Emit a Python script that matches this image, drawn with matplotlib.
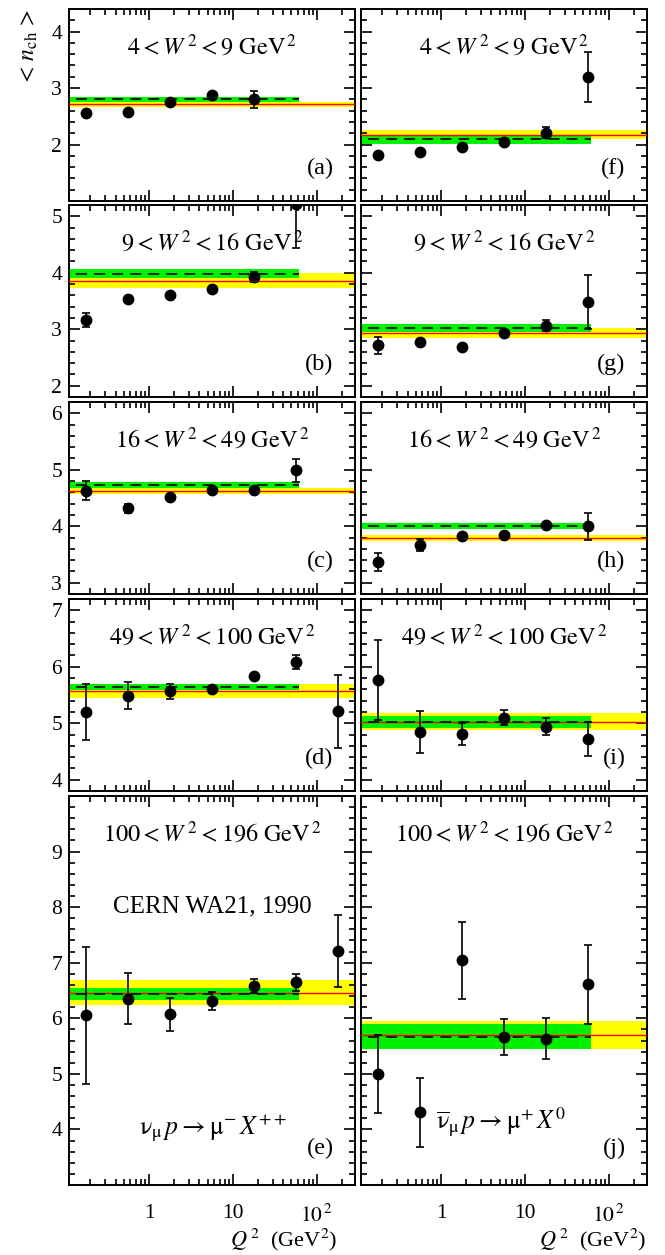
import numpy as np
import matplotlib
matplotlib.use("Agg")
import matplotlib.pyplot as plt
from matplotlib.ticker import MultipleLocator, FixedLocator, FixedFormatter, LogLocator, NullFormatter

plt.rcParams['font.family'] = ['Liberation Serif', 'DejaVu Serif']
plt.rcParams['mathtext.fontset'] = 'stix'

# Q^2 bin centres (GeV^2)
q2 = [0.178, 0.562, 1.78, 5.62, 17.8, 56.2, 178]

# <n_ch> per panel, values and errors
n_a = [2.55, 2.57, 2.75, 2.87, 2.80]
e_a = [0, 0, 0, 0, 0.15]
n_b = [3.16, 3.53, 3.60, 3.71, 3.92, 5.22]
e_b = [0.12, 0, 0, 0, 0.09, 0.78]
n_c = [4.63, 4.315, 4.51, 4.64, 4.65, 4.99]
e_c = [0.17, 0.08, 0, 0, 0, 0.20]
n_d = [5.20, 5.49, 5.565, 5.61, 5.845, 6.08, 5.21]
e_d = [0.49, 0.24, 0.135, 0, 0, 0.12, 0.65]
n_e = [6.055, 6.355, 6.07, 6.31, 6.58, 6.65, 7.21]
e_e = [1.23, 0.46, 0.29, 0.16, 0.13, 0.15, 0.655]

n_f = [1.81, 1.86, 1.96, 2.05, 2.21, 3.20]
e_f = [0, 0, 0, 0, 0.10, 0.44]
n_g = [2.72, 2.775, 2.69, 2.94, 3.06, 3.48]
e_g = [0.15, 0, 0, 0, 0.10, 0.48]
n_h = [3.37, 3.67, 3.82, 3.84, 4.03, 4.00]
e_h = [0.16, 0.11, 0, 0, 0, 0.24]
n_i = [5.76, 4.85, 4.81, 5.10, 4.94, 4.72]
e_i = [0.71, 0.375, 0.20, 0.14, 0.155, 0.30]
n_j = [5.00, 4.31, 7.04, 5.66, 5.63, 6.61]
e_j = [0.70, 0.62, 0.695, 0.32, 0.37, 0.71]

# bands: (centre, half width); green = fit up to Q^2 ~ 60, yellow = full range
green = {'a': (2.80, 0.05), 'b': (3.98, 0.08), 'c': (4.73, 0.05), 'd': (5.645, 0.053),
         'e': (6.44, 0.11), 'f': (2.095, 0.08), 'g': (3.02, 0.07), 'h': (4.005, 0.055),
         'i': (5.025, 0.105), 'j': (5.67, 0.22)}
yellow = {'a': (2.71, 0.045), 'b': (3.86, 0.13), 'c': (4.62, 0.055), 'd': (5.575, 0.125),
          'e': (6.46, 0.225), 'f': (2.175, 0.08), 'g': (2.935, 0.095), 'h': (3.79, 0.05),
          'i': (5.03, 0.15), 'j': (5.705, 0.255)}
green_end = 61

w2_bins = ['4 < W^{\\,2} < 9', '9 < W^{\\,2} < 16', '16 < W^{\\,2} < 49',
           '49 < W^{\\,2} < 100', '100 < W^{\\,2} < 196']
ylims = [(1.0, 4.4), (1.8, 5.2), (2.8, 6.2), (3.8, 7.2), (3.0, 10.0)]
yticks = [[2, 3, 4], [2, 3, 4, 5], [3, 4, 5, 6], [4, 5, 6, 7], [4, 5, 6, 7, 8, 9]]
xlim = (0.111, 287)

left_data = [(n_a, e_a), (n_b, e_b), (n_c, e_c), (n_d, e_d), (n_e, e_e)]
right_data = [(n_f, e_f), (n_g, e_g), (n_h, e_h), (n_i, e_i), (n_j, e_j)]

W, H = 665, 1255
fig = plt.figure(figsize=(W / 100, H / 100), dpi=100)

tops = [9, 205, 402, 599, 796]
heights = [192, 192, 192, 192, 389]
cols = [69, 361]
colw = 286


def draw(ax, key, n, e, row, col):
    g, y = green[key], yellow[key]
    ax.fill_between([0.05, 1000], y[0] - y[1], y[0] + y[1], color='#ffff00', lw=0, zorder=1)
    ax.fill_between([0.05, green_end], g[0] - g[1], g[0] + g[1], color='#00f000', lw=0, zorder=2)
    ax.plot([0.05, 1000], [y[0], y[0]], color='red', lw=1.0, zorder=3)
    ax.plot([0.05, green_end], [g[0], g[0]], color='#111111', lw=1.3, ls=(0, (6, 4)), zorder=3)
    x = q2[:len(n)]
    ax.errorbar(x, n, yerr=e, fmt='none', ecolor='black', elinewidth=1.2,
                capsize=3.2, capthick=1.2, zorder=4)
    ax.plot(x, n, 'o', color='black', ms=7.5, zorder=5)

    ax.set_xscale('log')
    ax.set_xlim(*xlim)
    ax.set_ylim(*ylims[row])
    ax.xaxis.set_major_locator(FixedLocator([1, 10, 100]))
    ax.xaxis.set_minor_locator(LogLocator(base=10, subs=np.arange(2, 10)))
    ax.xaxis.set_minor_formatter(NullFormatter())
    ax.yaxis.set_major_locator(FixedLocator(yticks[row]))
    ax.yaxis.set_minor_locator(MultipleLocator(0.2))
    ax.tick_params(which='both', direction='in', top=True, right=True, width=1.2)
    ax.tick_params(which='major', length=8, labelsize=15.5)
    ax.tick_params(which='minor', length=4)
    ax.tick_params(axis='x', pad=14)
    ax.tick_params(axis='y', pad=5)
    if row == 4:
        ax.xaxis.set_major_formatter(FixedFormatter(['1', '10', '$10^{\\,2}$']))
    else:
        ax.set_xticklabels([])
    if col == 1:
        ax.set_yticklabels([])
    for s in ax.spines.values():
        s.set_linewidth(1.4)

    big = row == 4
    ty = 1 - (38 / heights[row])
    ax.text(0.5, ty, '$' + w2_bins[row] + '\\ \\mathrm{GeV}^{\\,2}$', transform=ax.transAxes,
            ha='center', va='center', fontsize=17.5)
    ly = 33 / heights[row] if not big else 37 / heights[row]
    ax.text(0.925, ly, '(' + key + ')', transform=ax.transAxes, ha='right', va='center', fontsize=17.5)


keys_left = ['a', 'b', 'c', 'd', 'e']
keys_right = ['f', 'g', 'h', 'i', 'j']
axes = {}
for col, (keys, data) in enumerate([(keys_left, left_data), (keys_right, right_data)]):
    for row in range(5):
        rect = [cols[col] / W, 1 - (tops[row] + heights[row]) / H, colw / W, heights[row] / H]
        ax = fig.add_axes(rect)
        draw(ax, keys[row], data[row][0], data[row][1], row, col)
        axes[keys[row]] = ax

axes['e'].text(0.5, 0.715, 'CERN WA21, 1990', transform=axes['e'].transAxes,
               ha='center', va='center', fontsize=18)
axes['e'].text(0.245, 0.147, r'$\mathrm{\nu}_{\mathrm{\mu}}\,p \rightarrow \mathrm{\mu}^{-}\,X^{++}$',
               transform=axes['e'].transAxes, ha='left', va='center', fontsize=18.5)
axes['j'].text(0.262, 0.16, r'$\overline{\mathrm{\nu}}_{\mathrm{\mu}}\,p \rightarrow \mathrm{\mu}^{+}\,X^{0}$',
               transform=axes['j'].transAxes, ha='left', va='center', fontsize=18.5)

fig.text(29 / W, 1 - 47 / H, r'$<\,n_{\rm ch}\,>$', rotation=90, ha='center', va='center', fontsize=17)
for xr in [337, 646]:
    fig.text(xr / W, 1 - 1240 / H, r'$Q^{\,2}$  (GeV$^2$)', ha='right', va='center', fontsize=16)

fig.savefig('out.png', dpi=100)
